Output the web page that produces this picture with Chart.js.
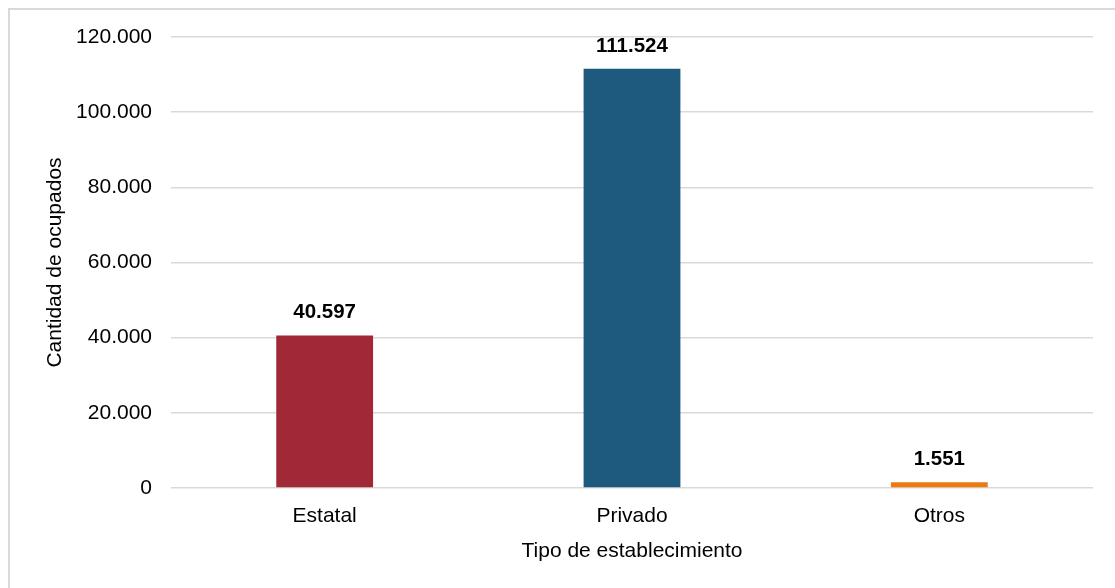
<!DOCTYPE html>
<html>
<head>
<meta charset="utf-8">
<script src="https://cdn.jsdelivr.net/npm/chart.js@4"></script>
<style>
  html, body { margin: 0; padding: 0; background: #fff; }
  #frame { position: absolute; left: 8px; top: 8px; width: 1200px; height: 700px; border: 2px solid #d9d9d9; box-sizing: border-box; }
  #wrap { position: absolute; left: 0; top: 0; width: 1115px; height: 588px; }
</style>
</head>
<body>
<div id="frame"></div>
<div id="wrap"><canvas id="barChart" width="1115" height="588"></canvas></div>
<script>
var categories = ["Estatal", "Privado", "Otros"];
var ocupados = [40597, 111524, 1551];
var barColors = ['#A02837', '#1E5A7D', '#EA7A12'];
var yTicks = [0, 20000, 40000, 60000, 80000, 100000, 120000];

function fmt(v) {
    return v.toString().replace(/\B(?=(\d{3})+(?!\d))/g, '.');
}

// etiquetas de valor encima de cada barra
var valueLabels = {
    id: 'valueLabels',
    afterDatasetsDraw: function(chart) {
        var c = chart.ctx;
        var meta = chart.getDatasetMeta(0);
        c.save();
        c.font = 'bold 20.5px "Liberation Sans", Arial, sans-serif';
        c.fillStyle = '#000';
        c.textAlign = 'center';
        c.textBaseline = 'alphabetic';
        meta.data.forEach(function(bar, i) {
            c.fillText(fmt(ocupados[i]), bar.x, bar.y - 17);
        });
        c.restore();
    }
};

Chart.defaults.font.family = '"Liberation Sans", Arial, sans-serif';
Chart.defaults.color = '#000';

var ctx = document.getElementById('barChart').getContext('2d');
var chart = new Chart(ctx, {
    type: 'bar',
    data: {
        labels: categories,
        datasets: [{
            data: ocupados,
            backgroundColor: barColors,
            borderWidth: 0,
            categoryPercentage: 1,
            barPercentage: 0.315
        }]
    },
    options: {
        responsive: false,
        animation: false,
        layout: { padding: { left: 0, right: 22, top: 37, bottom: 20 } },
        plugins: { legend: { display: false }, tooltip: { enabled: false } },
        scales: {
            x: {
                grid: { display: false, drawTicks: false },
                border: { display: false },
                ticks: { font: { size: 21 }, padding: 16 },
                title: { display: true, text: 'Tipo de establecimiento', font: { size: 21 }, padding: { top: 0 } },
                afterFit: function(s) { s.height = 80; }
            },
            y: {
                min: 0,
                max: 120000,
                afterBuildTicks: function(s) { s.ticks = yTicks.map(function(v) { return { value: v }; }); },
                grid: { color: '#d9d9d9', lineWidth: 1.5, drawTicks: false },
                border: { display: false },
                ticks: { font: { size: 21 }, padding: 19, callback: function(v) { return fmt(v); } },
                title: { display: true, text: 'Cantidad de ocupados', font: { size: 21 }, padding: { top: 43, bottom: 4 } },
                afterFit: function(s) { s.width = 171; }
            }
        }
    },
    plugins: [valueLabels]
});
</script>
</body>
</html>
